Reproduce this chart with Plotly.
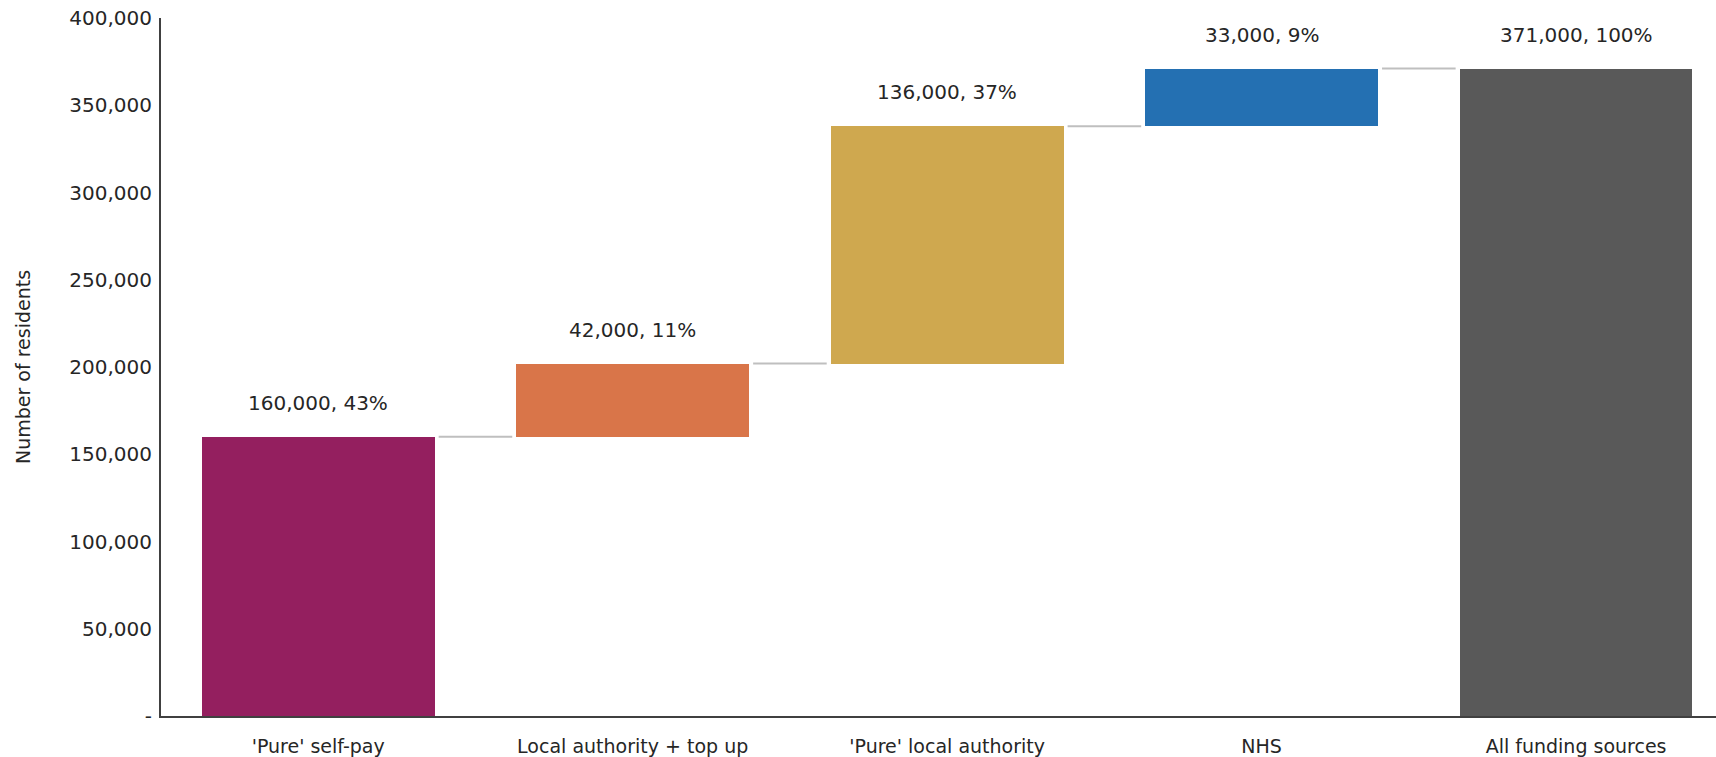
import plotly.graph_objects as go

categories = ["'Pure' self-pay", "Local authority + top up", "'Pure' local authority", "NHS", "All funding sources"]
values = [160000, 42000, 136000, 33000, 371000]
is_total = [False, False, False, False, True]
labels = ["160,000, 43%", "42,000, 11%", "136,000, 37%", "33,000, 9%", "371,000, 100%"]
colors = ["#941F5F", "#D97549", "#CFA84F", "#2470B2", "#595959"]
yticks = [0, 50000, 100000, 150000, 200000, 250000, 300000, 350000, 400000]
yticktext = ["-", "50,000", "100,000", "150,000", "200,000", "250,000", "300,000", "350,000", "400,000"]

# compute bases (waterfall)
bases, tops = [], []
run = 0
for v, tot in zip(values, is_total):
    if tot:
        bases.append(0)
        tops.append(v)
        run = v
    else:
        bases.append(run)
        run += v
        tops.append(run)

xs = list(range(len(categories)))
BW = 0.74
FONT = "DejaVu Sans"
TXT = "#262626"

fig = go.Figure()
fig.add_trace(go.Bar(
    x=xs, y=values, base=bases, width=BW,
    marker=dict(color=colors, line=dict(width=0)),
    hoverinfo="skip", showlegend=False,
))

# connectors
cx, cy = [], []
gap = 0.013
for i in range(len(xs) - 1):
    level = tops[i]
    cx += [xs[i] + BW / 2 + gap, xs[i + 1] - BW / 2 - gap, None]
    cy += [level, level, None]
fig.add_trace(go.Scatter(x=cx, y=cy, mode="lines",
                         line=dict(color="#BFBFBF", width=2),
                         hoverinfo="skip", showlegend=False))

for i, lab in enumerate(labels):
    fig.add_annotation(x=xs[i], y=tops[i], text=lab, showarrow=False,
                       yanchor="middle", yshift=34,
                       font=dict(family=FONT, size=20, color=TXT))

fig.update_layout(
    width=1716, height=757,
    margin=dict(l=161, r=0, t=18, b=41),
    paper_bgcolor="white", plot_bgcolor="white",
    font=dict(family=FONT, color=TXT),
    bargap=0,
)
fig.update_xaxes(
    range=[-0.5, 4.445],
    tickvals=xs, ticktext=categories,
    tickfont=dict(family=FONT, size=19, color=TXT),
    showline=True, linecolor="#404040", linewidth=2,
    showgrid=False, zeroline=False, ticks="", ticklabelstandoff=12,
)
fig.update_yaxes(
    range=[0, 400000],
    tickvals=yticks, ticktext=yticktext,
    tickfont=dict(family=FONT, size=20, color=TXT),
    showline=True, linecolor="#404040", linewidth=2,
    showgrid=False, zeroline=False, ticks="", ticklabelstandoff=3,
    title=dict(text="Number of residents", standoff=34,
               font=dict(family=FONT, size=19, color=TXT)),
)

fig.write_html("out.html")
